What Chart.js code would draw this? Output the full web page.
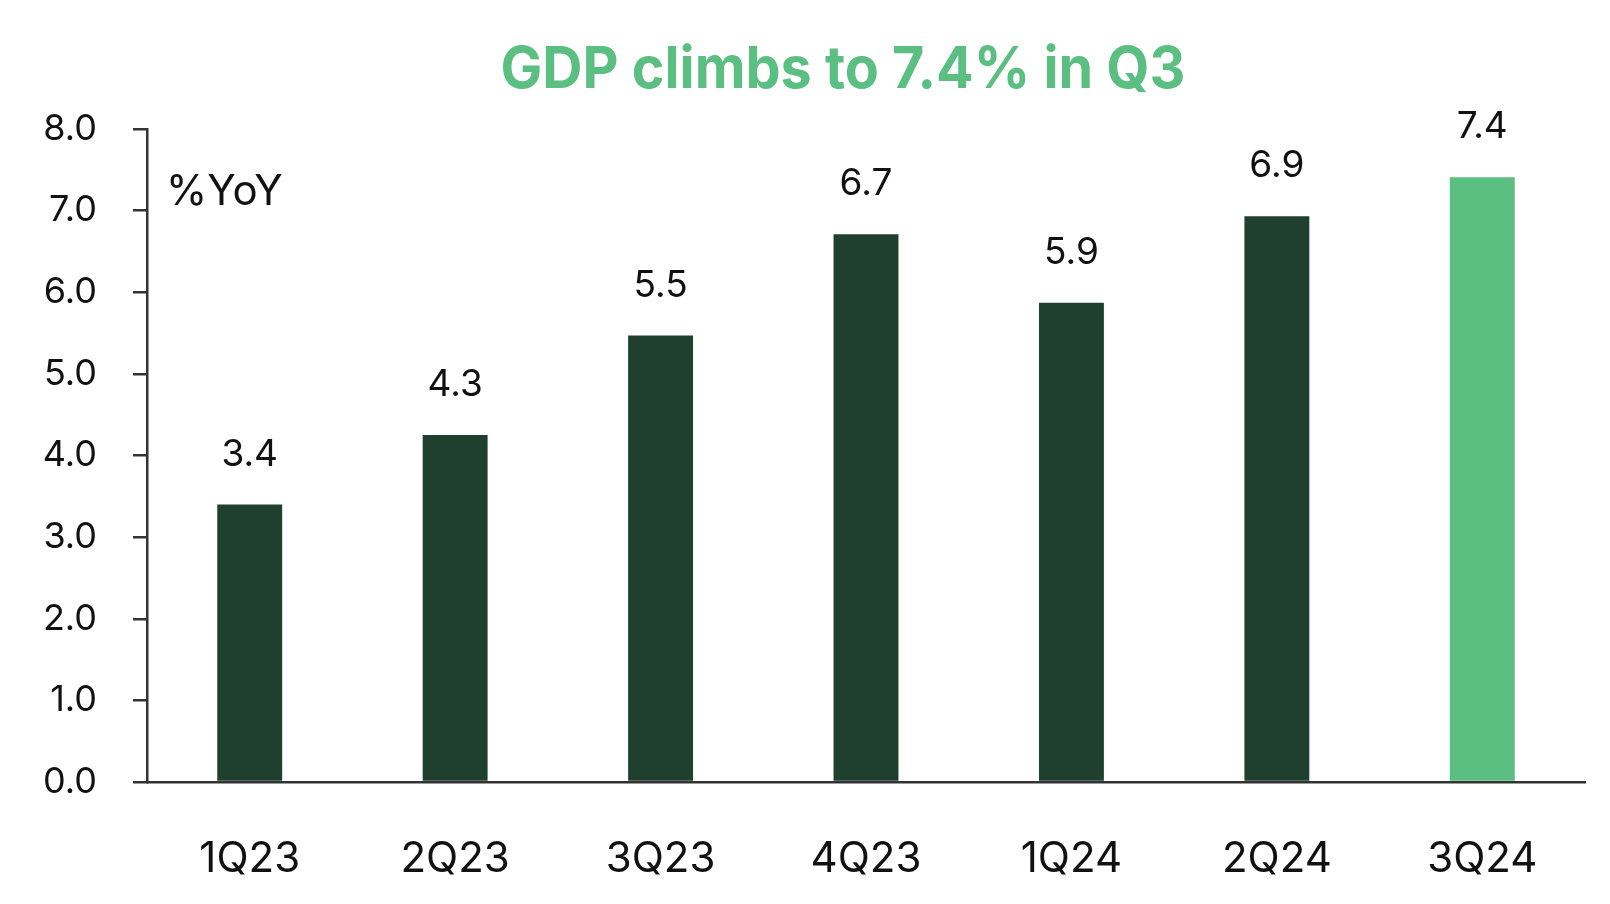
<!DOCTYPE html>
<html>
<head>
<meta charset="utf-8">
<script src="https://cdn.jsdelivr.net/npm/chart.js@4.4.1/dist/chart.umd.min.js"></script>
<style>
html,body{margin:0;padding:0;background:#fff;}
#wrap{width:1610px;height:904px;position:relative;}
</style>
</head>
<body>
<div id="wrap"><canvas id="c" width="1610" height="904"></canvas></div>
<script>
const categories = ['1Q23','2Q23','3Q23','4Q23','1Q24','2Q24','3Q24'];
const gdpYoY = [3.40, 4.25, 5.47, 6.71, 5.87, 6.93, 7.41];
const yTicks = [0,1,2,3,4,5,6,7,8];
const titleText = 'GDP climbs to 7.4% in Q3';
const unitText = '%YoY';

const DARK = '#1f402f';
const LIGHT = '#5bbf82';
const FONT = 'Inter, "Noto Sans", sans-serif';

const overlay = {
  id: 'overlay',
  afterDatasetsDraw(chart) {
    const ctx = chart.ctx;
    const meta = chart.getDatasetMeta(0);
    ctx.save();
    ctx.fillStyle = '#111';
    ctx.font = '37px ' + FONT;
    ctx.textAlign = 'center';
    ctx.textBaseline = 'middle';
    meta.data.forEach((bar, i) => {
      ctx.fillText(gdpYoY[i].toFixed(1), bar.x, bar.y - 50);
    });
    // unit label
    ctx.textAlign = 'left';
    ctx.font = '42px ' + FONT;
    ctx.fillText(unitText, 166, 192);
    // title
    ctx.fillStyle = LIGHT;
    ctx.textAlign = 'center';
    ctx.font = 'bold 58px ' + FONT;
    ctx.fillText(titleText, 843, 71, 685);
    ctx.restore();
  }
};

new Chart(document.getElementById('c'), {
  type: 'bar',
  data: {
    labels: categories,
    datasets: [{
      data: gdpYoY,
      backgroundColor: categories.map((c, i) => i === categories.length - 1 ? LIGHT : DARK),
      borderWidth: 0,
      barPercentage: 0.316,
      categoryPercentage: 1.0
    }]
  },
  options: {
    responsive: false,
    animation: false,
    devicePixelRatio: 1,
    layout: { padding: { top: 129, right: 25, bottom: 0, left: 0 } },
    plugins: { legend: { display: false }, tooltip: { enabled: false }, title: { display: false } },
    scales: {
      x: {
        grid: { display: false },
        border: { display: true, color: '#333', width: 2.5 },
        ticks: { color: '#111', font: { family: FONT, size: 42 }, padding: 44, maxRotation: 0 },
        afterFit(scale) { scale.height = 122; }
      },
      y: {
        min: 0, max: 8,
        afterBuildTicks(scale) { scale.ticks = yTicks.map(v => ({ value: v })); },
        grid: { drawOnChartArea: false, drawTicks: true, tickLength: 14, color: '#333', lineWidth: 2.5 },
        border: { display: true, color: '#333', width: 2.5 },
        ticks: { color: '#111', font: { family: FONT, size: 36 }, padding: 36, callback: v => Number(v).toFixed(1) },
        afterFit(scale) { scale.width = 147; }
      }
    }
  },
  plugins: [overlay]
});
</script>
</body>
</html>
